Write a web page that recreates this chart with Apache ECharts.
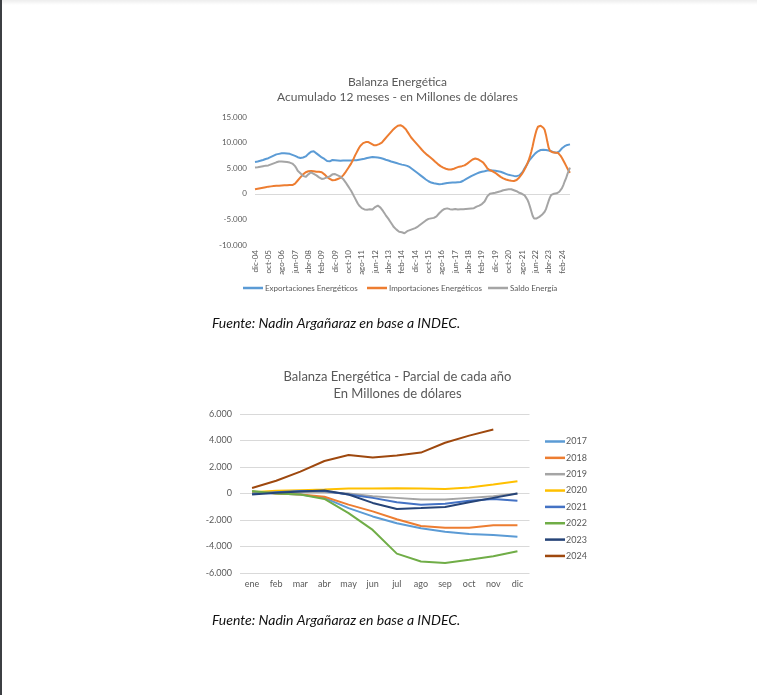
<!DOCTYPE html>
<html><head><meta charset="utf-8">
<script src="https://cdn.jsdelivr.net/npm/echarts@6/dist/echarts.min.js"></script>
<style>html,body{margin:0;padding:0;background:#fff}#c{width:757px;height:695px}</style>
</head><body><div id="c"></div>
<script>
// ---------- Chart 1: Acumulado 12 meses ----------
const meses = [
'dic-04',
'ene-05','feb-05','mar-05','abr-05','may-05','jun-05','jul-05','ago-05','sep-05','oct-05','nov-05','dic-05',
'ene-06','feb-06','mar-06','abr-06','may-06','jun-06','jul-06','ago-06','sep-06','oct-06','nov-06','dic-06',
'ene-07','feb-07','mar-07','abr-07','may-07','jun-07','jul-07','ago-07','sep-07','oct-07','nov-07','dic-07',
'ene-08','feb-08','mar-08','abr-08','may-08','jun-08','jul-08','ago-08','sep-08','oct-08','nov-08','dic-08',
'ene-09','feb-09','mar-09','abr-09','may-09','jun-09','jul-09','ago-09','sep-09','oct-09','nov-09','dic-09',
'ene-10','feb-10','mar-10','abr-10','may-10','jun-10','jul-10','ago-10','sep-10','oct-10','nov-10','dic-10',
'ene-11','feb-11','mar-11','abr-11','may-11','jun-11','jul-11','ago-11','sep-11','oct-11','nov-11','dic-11',
'ene-12','feb-12','mar-12','abr-12','may-12','jun-12','jul-12','ago-12','sep-12','oct-12','nov-12','dic-12',
'ene-13','feb-13','mar-13','abr-13','may-13','jun-13','jul-13','ago-13','sep-13','oct-13','nov-13','dic-13',
'ene-14','feb-14','mar-14','abr-14','may-14','jun-14','jul-14','ago-14','sep-14','oct-14','nov-14','dic-14',
'ene-15','feb-15','mar-15','abr-15','may-15','jun-15','jul-15','ago-15','sep-15','oct-15','nov-15','dic-15',
'ene-16','feb-16','mar-16','abr-16','may-16','jun-16','jul-16','ago-16','sep-16','oct-16','nov-16','dic-16',
'ene-17','feb-17','mar-17','abr-17','may-17','jun-17','jul-17','ago-17','sep-17','oct-17','nov-17','dic-17',
'ene-18','feb-18','mar-18','abr-18','may-18','jun-18','jul-18','ago-18','sep-18','oct-18','nov-18','dic-18',
'ene-19','feb-19','mar-19','abr-19','may-19','jun-19','jul-19','ago-19','sep-19','oct-19','nov-19','dic-19',
'ene-20','feb-20','mar-20','abr-20','may-20','jun-20','jul-20','ago-20','sep-20','oct-20','nov-20','dic-20',
'ene-21','feb-21','mar-21','abr-21','may-21','jun-21','jul-21','ago-21','sep-21','oct-21','nov-21','dic-21',
'ene-22','feb-22','mar-22','abr-22','may-22','jun-22','jul-22','ago-22','sep-22','oct-22','nov-22','dic-22',
'ene-23','feb-23','mar-23','abr-23','may-23','jun-23','jul-23','ago-23','sep-23','oct-23','nov-23','dic-23',
'ene-24','feb-24','mar-24','abr-24','may-24','jun-24','jul-24','ago-24'
];
const exportaciones = [
6200,6250,6300,6400,6450,6550,6600,6700,6800,6850,
6950,7050,7200,7300,7450,7550,7700,7800,7800,7850,
7900,7900,7900,7850,7850,7800,7800,7700,7600,7500,
7400,7300,7150,7050,7000,7050,7100,7200,7300,7500,
7800,8000,8200,8400,8300,8100,7900,7700,7500,7300,
7100,6950,6800,6600,6400,6300,6350,6500,6600,6600,
6550,6500,6500,6450,6450,6500,6500,6450,6500,6500,
6500,6550,6500,6500,6550,6550,6550,6600,6650,6700,
6750,6800,6850,6950,7000,7050,7100,7150,7200,7200,
7150,7150,7100,7050,7000,6950,6850,6750,6650,6550,
6500,6400,6300,6250,6150,6100,6000,5950,5850,5800,
5700,5650,5600,5500,5450,5350,5200,5000,4800,4600,
4400,4200,4000,3800,3600,3400,3200,3000,2800,2600,
2450,2300,2200,2100,2050,2000,1950,1900,1850,1850,
1900,1950,2000,2050,2100,2150,2150,2200,2200,2200,
2200,2250,2250,2300,2300,2400,2550,2700,2850,3000,
3150,3300,3450,3600,3700,3800,3950,4050,4150,4250,
4300,4350,4400,4500,4550,4600,4600,4600,4550,4500,
4500,4450,4400,4350,4300,4200,4100,4000,3900,3800,
3700,3650,3600,3550,3500,3450,3450,3500,3600,3800,
4100,4500,5000,5400,5800,6300,6700,7000,7300,7650,
7900,8100,8300,8500,8550,8600,8600,8600,8550,8500,
8450,8400,8300,8200,8100,8050,8000,8100,8300,8600,
8900,9100,9300,9450,9550,9600,9650
];
const importaciones = [
900,950,1000,1050,1100,1150,1200,1250,1300,1350,
1400,1400,1450,1500,1500,1500,1550,1550,1550,1600,
1600,1600,1650,1650,1650,1650,1700,1700,1700,1800,
2000,2300,2600,2900,3200,3500,3800,4000,4200,4300,
4400,4400,4450,4400,4400,4350,4300,4300,4300,4300,
4200,4000,3800,3500,3300,3100,2900,2700,2650,2650,
2700,2800,2900,3000,3100,3300,3600,3900,4300,4700,
5100,5500,5900,6400,6900,7500,8000,8500,9000,9400,
9700,9900,10000,10100,10150,10100,10000,9800,9600,9500,
9450,9500,9600,9700,9850,10000,10300,10600,10900,11200,
11500,11800,12100,12400,12700,12900,13100,13300,13400,13400,
13300,13100,12900,12600,12200,11800,11400,11000,10700,10400,
10100,9800,9500,9200,8900,8600,8300,8050,7800,7600,
7400,7200,7000,6750,6500,6250,6000,5800,5600,5400,
5250,5100,5000,4900,4800,4750,4700,4750,4800,4900,
5000,5100,5200,5300,5350,5400,5450,5550,5700,5900,
6100,6300,6500,6700,6850,6900,6850,6750,6600,6450,
6300,6100,5800,5400,5000,4800,4600,4500,4400,4300,
4100,3900,3700,3500,3300,3100,3000,2900,2800,2700,
2650,2600,2550,2500,2500,2550,2700,2900,3200,3500,
3900,4300,4800,5300,5900,6500,7300,8200,9300,10500,
11600,12500,13100,13300,13300,13200,12900,12500,11500,10200,
9000,8400,8200,8100,8000,8000,8050,8000,7800,7400,
7000,6500,6000,5500,5000,4500,4100
];
const saldo = [
5150,5200,5200,5250,5300,5350,5400,5450,5500,5500,
5550,5650,5750,5800,5950,6050,6150,6250,6300,6250,
6300,6300,6250,6200,6200,6150,6100,6000,5900,5700,
5400,5000,4500,4200,4000,3800,3500,3400,3300,3400,
3800,4100,4200,4100,3900,3700,3600,3400,3200,3000,
2900,2950,3000,3100,3200,3300,3400,3600,3800,3900,
3850,3700,3600,3500,3350,3200,2900,2550,2200,1800,
1400,1000,600,100,-400,-900,-1400,-1900,-2300,-2600,
-2800,-3000,-3050,-3100,-3100,-3000,-3000,-3050,-3050,-2900,
-2600,-2350,-2300,-2500,-2700,-3000,-3400,-3800,-4200,-4500,
-4900,-5300,-5700,-6100,-6500,-6800,-7000,-7200,-7400,-7500,
-7500,-7600,-7700,-7500,-7300,-7200,-7100,-7000,-6900,-6800,
-6700,-6600,-6400,-6200,-6000,-5800,-5600,-5400,-5200,-5000,
-4900,-4800,-4800,-4750,-4700,-4600,-4400,-4100,-3800,-3500,
-3300,-3100,-2950,-2900,-2850,-2900,-3000,-3050,-3050,-3000,
-2950,-3000,-3050,-3050,-3000,-2950,-3000,-3000,-2950,-2900,
-2900,-2850,-2850,-2900,-2800,-2700,-2500,-2350,-2300,-2200,
-2000,-1800,-1500,-1000,-500,-200,0,50,100,150,
200,300,350,400,500,600,700,800,800,850,
900,950,900,800,700,600,500,300,200,100,
0,-100,-300,-700,-1100,-1700,-2500,-3400,-4300,-4800,
-4900,-4800,-4600,-4500,-4300,-4100,-3900,-3500,-3000,-2200,
-1400,-700,-200,-50,0,0,100,200,400,700,
1100,1700,2400,3000,3800,4500,5100
];
const nombres1 = ['Exportaciones Energéticos','Importaciones Energéticos','Saldo Energía'];
const colores1 = ['#5B9BD5','#ED7D31','#A5A5A5'];

// ---------- Chart 2: Parcial de cada año ----------
const mesesAnio = ['ene','feb','mar','abr','may','jun','jul','ago','sep','oct','nov','dic'];
const anios = ['2017','2018','2019','2020','2021','2022','2023','2024'];
const parcial2017 = [50,0,-80,-330,-1100,-1730,-2240,-2630,-2880,-3060,-3140,-3260];
const parcial2018 = [150,0,-80,-250,-840,-1350,-1940,-2450,-2580,-2580,-2400,-2400];
const parcial2019 = [0,50,100,100,0,-200,-330,-460,-460,-330,-200,0];
const parcial2020 = [100,200,250,300,370,380,400,380,340,450,680,930];
const parcial2021 = [0,100,180,180,-80,-330,-660,-840,-770,-540,-410,-540];
const parcial2022 = [180,0,-80,-410,-1480,-2750,-4540,-5130,-5250,-5000,-4740,-4360];
const parcial2023 = [-80,50,150,230,-80,-710,-1170,-1100,-1020,-660,-330,0];
const parcial2024 = [420,960,1650,2450,2900,2720,2860,3090,3830,4370,4830];
const colores2 = ['#5B9BD5','#ED7D31','#A5A5A5','#FFC000','#4472C4','#70AD47','#264478','#9E480E'];

const ticks1 = [-10000,-5000,0,5000,10000,15000];
const ticks2 = [-6000,-4000,-2000,0,2000,4000,6000];

function fmt(v){
  const s = Math.abs(v).toString().replace(/\B(?=(\d{3})+(?!\d))/g,'.');
  return (v<0?'-':'')+s;
}

const FONT = 'Lato, "Open Sans", sans-serif';
const GRAY = '#595959';

const chart = echarts.init(document.getElementById('c'), null, {renderer:'canvas'});

const series = [];
const serie1Data = [exportaciones, importaciones, saldo];
serie1Data.forEach((d,i)=>{
  const s = {
    name: nombres1[i], type:'line', xAxisIndex:0, yAxisIndex:0,
    data: d, showSymbol:false, symbol:'none',
    lineStyle:{width:2, color:colores1[i]}, itemStyle:{color:colores1[i]},
    z: 3+i
  };
  if(i===0){
    s.markLine = {silent:true, symbol:'none', label:{show:false},
      lineStyle:{color:'#D9D9D9', width:1, type:'solid'}, data:[{yAxis:0}], z:1};
  }
  series.push(s);
});
const serie2Data = [parcial2017,parcial2018,parcial2019,parcial2020,parcial2021,parcial2022,parcial2023,parcial2024];
serie2Data.forEach((d,i)=>{
  series.push({
    name: anios[i], type:'line', xAxisIndex:1, yAxisIndex:1,
    data: d, showSymbol:false, symbol:'none',
    lineStyle:{width:2, color:colores2[i]}, itemStyle:{color:colores2[i]},
    z: 3+i
  });
});

const legends = [];
const leg1Left = [243, 367, 488];
nombres1.forEach((n,i)=>{
  legends.push({data:[n], left:leg1Left[i], top:284, icon:'rect', itemWidth:20, itemHeight:2.5,
    selectedMode:false, padding:0, textStyle:{fontFamily:FONT, fontSize:8, color:GRAY, padding:[0,0,0,-3]}});
});
anios.forEach((n,i)=>{
  legends.push({data:[n], left:545, top:437 + i*16.35, icon:'rect', itemWidth:20, itemHeight:2.5,
    selectedMode:false, padding:0, textStyle:{fontFamily:FONT, fontSize:9, color:GRAY, padding:[0,0,0,-4]}});
});

chart.setOption({
  animation:false,
  backgroundColor:'#ffffff',
  textStyle:{fontFamily:FONT},
  title:[
    {text:'Balanza Energética\nAcumulado 12 meses - en Millones de dólares', left:397.5, top:75, textAlign:'center', padding:0,
     textStyle:{fontFamily:FONT, fontSize:12, fontWeight:'normal', color:GRAY, lineHeight:14.5}},
    {text:'Balanza Energética - Parcial de cada año\nEn Millones de dólares', left:397.5, top:368, textAlign:'center', padding:0,
     textStyle:{fontFamily:FONT, fontSize:13, fontWeight:'normal', color:GRAY, lineHeight:17}}
  ],
  legend: legends,
  grid:[
    {left:255, top:117, width:315, height:128, outerBoundsMode:'none', containLabel:false},
    {left:240, top:414, width:289.5, height:159, outerBoundsMode:'none', containLabel:false}
  ],
  xAxis:[
    {type:'category', gridIndex:0, data:meses, boundaryGap:false,
     axisLine:{show:false}, axisTick:{show:false},
     axisLabel:{interval:9, rotate:90, margin:5, fontSize:8, color:GRAY, fontFamily:FONT}},
    {type:'category', gridIndex:1, data:mesesAnio, boundaryGap:true,
     axisLine:{show:false}, axisTick:{show:false},
     axisLabel:{margin:7, fontSize:9, color:GRAY, fontFamily:FONT}}
  ],
  yAxis:[
    {type:'value', gridIndex:0, min:ticks1[0], max:ticks1[ticks1.length-1], interval:5000,
     splitLine:{show:false}, axisLine:{show:false}, axisTick:{show:false},
     axisLabel:{margin:8, fontSize:8, color:GRAY, fontFamily:FONT, formatter:fmt}},
    {type:'value', gridIndex:1, min:ticks2[0], max:ticks2[ticks2.length-1], interval:2000,
     splitLine:{show:true, lineStyle:{color:'#D9D9D9', width:1}}, axisLine:{show:false}, axisTick:{show:false},
     axisLabel:{margin:8, fontSize:9, color:GRAY, fontFamily:FONT, formatter:fmt}}
  ],
  series: series,
  graphic:[
    {type:'rect', shape:{x:0,y:0,width:2,height:695}, style:{fill:'#3c3f43'}, silent:true},
    {type:'rect', shape:{x:2,y:0,width:755,height:5}, silent:true,
     style:{fill:new echarts.graphic.LinearGradient(0,0,0,1,[{offset:0,color:'rgba(0,0,0,0.07)'},{offset:1,color:'rgba(0,0,0,0)'}])}},
    {type:'text', x:212, y:323, silent:true,
     style:{text:'Fuente: Nadin Argañaraz en base a INDEC.', font:'italic 14px Lato, "Open Sans", sans-serif', fill:'#111', verticalAlign:'middle'}},
    {type:'text', x:212, y:620, silent:true,
     style:{text:'Fuente: Nadin Argañaraz en base a INDEC.', font:'italic 14px Lato, "Open Sans", sans-serif', fill:'#111', verticalAlign:'middle'}}
  ]
});
</script>
</body></html>
